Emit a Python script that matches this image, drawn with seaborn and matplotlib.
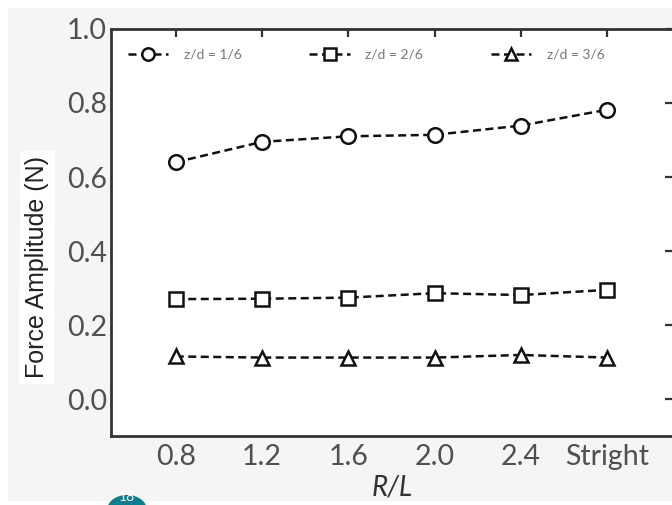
import numpy as np
import pandas as pd
import matplotlib
matplotlib.use("Agg")
import matplotlib.pyplot as plt
import seaborn as sns
from matplotlib.patches import Rectangle, Circle

# ---- data ----
categories = ["0.8", "1.2", "1.6", "2.0", "2.4", "Stright"]
zd_1_6 = [0.640, 0.695, 0.710, 0.714, 0.739, 0.782]
zd_2_6 = [0.270, 0.271, 0.274, 0.286, 0.281, 0.295]
zd_3_6 = [0.115, 0.112, 0.112, 0.112, 0.119, 0.112]
series_labels = ["z/d = 1/6", "z/d = 2/6", "z/d = 3/6"]
series_markers = ["o", "s", "^"]
yticks = [0.0, 0.2, 0.4, 0.6, 0.8, 1.0]

sns.set_theme(style="white")
plt.rcParams["font.family"] = ["Lato", "DejaVu Sans"]

W, H = 672, 505
fig = plt.figure(figsize=(W / 100, H / 100), dpi=100)
fig.patch.set_facecolor("white")
# gray page background
fig.patches.append(Rectangle((8 / W, 4 / H), (W - 8) / W, (H - 12) / H,
                             transform=fig.transFigure, facecolor="#f5f5f5",
                             edgecolor="none", zorder=-10))

left, right, top, bottom = 111, 673, 29, 436
ax = fig.add_axes([left / W, 1 - bottom / H, (right - left) / W, (bottom - top) / H])
ax.set_facecolor("white")

x = np.arange(len(categories))
for vals, lab, mk in zip([zd_1_6, zd_2_6, zd_3_6], series_labels, series_markers):
    sns.lineplot(x=x, y=vals, ax=ax, color="#111111", linestyle=(0, (3.2, 1.8)),
                 linewidth=1.8, marker=mk, markersize=10.5 if mk != "s" else 9.5,
                 markerfacecolor="white", markeredgecolor="#111111",
                 markeredgewidth=1.8, label=lab)

ax.set_xlim(-0.75, 5.76)
ax.set_ylim(-0.1, 1.0)
ax.set_xticks(x)
ax.set_xticklabels(categories)
ax.set_yticks(yticks)
ax.set_yticklabels([f"{v:.1f}" for v in yticks])
ax.tick_params(axis="both", which="both", direction="in", length=6, width=1.6,
               colors="#333333", labelcolor="#505050", labelsize=20.5,
               top=True, right=True, pad=3)
ax.tick_params(axis="x", pad=6)
for s in ax.spines.values():
    s.set_linewidth(2.0)
    s.set_color("#333333")

ax.set_xlabel("R/L", fontsize=20, style="italic", color="#333333", labelpad=3)
ax.set_ylabel("")
fig.text(37 / W, 1 - 267 / H, "Force Amplitude (N)", rotation=90, fontsize=18,
         color="#222222", family=["Liberation Sans", "DejaVu Sans"],
         ha="center", va="center",
         bbox=dict(facecolor="white", edgecolor="none", pad=4))

leg = ax.legend(loc="upper left", ncol=3, frameon=False, fontsize=10,
                handlelength=2.9, columnspacing=4.9, handletextpad=1.1,
                bbox_to_anchor=(0.008, 0.983), markerscale=0.85)
for t in leg.get_texts():
    t.set_color("#777777")

# teal page badge at bottom
fig.patches.append(Circle((127 / W, 1 - 510 / H), 20 / W, transform=fig.transFigure,
                          facecolor="#0b7f8f", edgecolor="none", zorder=5))
fig.text(127 / W, 1 - 503 / H, "18", color="white", fontsize=10, ha="center",
         va="bottom", zorder=6)

fig.savefig("out.png", dpi=100, facecolor=fig.get_facecolor())
